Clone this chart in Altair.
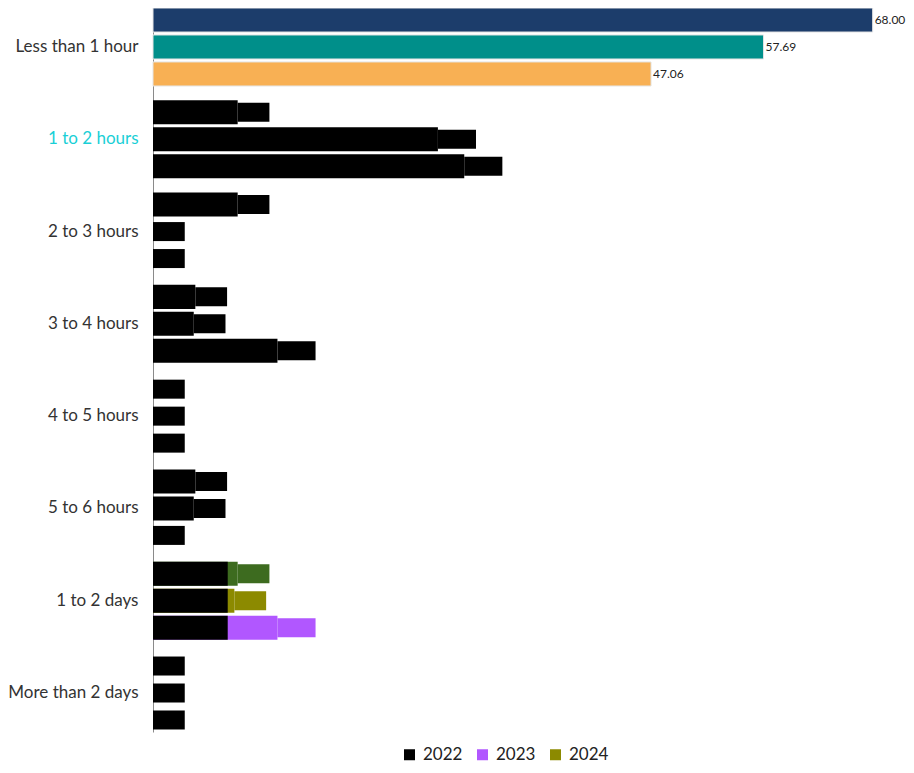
import altair as alt
import pandas as pd

categories = ["Less than 1 hour", "1 to 2 hours", "2 to 3 hours", "3 to 4 hours",
              "4 to 5 hours", "5 to 6 hours", "1 to 2 days", "More than 2 days"]
years = ["2022", "2023", "2024"]
v2022 = [68.00, 8.00, 8.00, 4.00, 0.00, 4.00, 8.00, 0.00]
v2023 = [57.69, 26.92, 0.00, 3.85, 0.00, 3.85, 7.69, 0.00]
v2024 = [47.06, 29.41, 0.00, 11.76, 0.00, 0.00, 11.76, 0.00]

# fill colour of each bar as it appears in the picture
fill2022 = ["#1c3d6b", "#000000", "#000000", "#000000", "#000000", "#000000", "#3d6b1f", "#000000"]
fill2023 = ["#008f8a", "#000000", "#000000", "#000000", "#000000", "#000000", "#8c8a00", "#000000"]
fill2024 = ["#f8b054", "#000000", "#000000", "#000000", "#000000", "#000000", "#b157ff", "#000000"]
# black overlay seen over the start of the "1 to 2 days" bars
overlay_days = [7.06, 7.06, 7.06]

legend_colors = ["#000000", "#b157ff", "#8c8a00"]

rows = []
for i, cat in enumerate(categories):
    for j, (yr, vals, fills) in enumerate(zip(years, [v2022, v2023, v2024], [fill2022, fill2023, fill2024])):
        rows.append({
            "cat": cat, "year": yr, "value": vals[i], "label": f"{vals[i]:.2f}",
            "fillc": fills[i], "top": i == 0,
            "overlay": overlay_days[j] if cat == "1 to 2 days" else 0.0,
        })
df = pd.DataFrame(rows)

yenc = alt.Y("cat:N", sort=categories, title=None,
             scale=alt.Scale(paddingInner=0.155, paddingOuter=0),
             axis=alt.Axis(ticks=False, tickSize=0, labelPadding=15, labelFont="Lato",
                           labelFontSize=17,
                           labelColor=alt.expr("datum.value == '1 to 2 hours' ? '#19cfd6' : '#333333'"),
                           domainColor="#8a8a8a"))
yoff = alt.YOffset("year:N", sort=years, scale=alt.Scale(paddingInner=0.11, paddingOuter=0))
xscale = alt.Scale(domain=[0, 70.3], nice=False)
xenc = alt.X("value:Q", scale=xscale, axis=None)

base = alt.Chart(df)

bars = base.mark_bar().encode(
    y=yenc, yOffset=yoff, x=xenc, fill=alt.Fill("fillc:N", scale=None),
    stroke=alt.condition("datum.top", alt.value("#e4e4e4"), alt.value("transparent")))

boxes = base.transform_filter("!datum.top").transform_calculate(
    box_end="datum.value + 0.6 + 0.6 * length(datum.label)"
).mark_bar(height=19).encode(
    y=yenc, yOffset=yoff, x=xenc, x2="box_end:Q", fill=alt.Fill("fillc:N", scale=None))

overlay = base.transform_filter("datum.overlay > 0").mark_bar(color="#000000").encode(
    y=yenc, yOffset=yoff, x=alt.X("overlay:Q", scale=xscale, axis=None))

texts = base.transform_filter("datum.top").mark_text(
    align="left", baseline="middle", dx=2, font="Lato", fontSize=12, color="#222222"
).encode(y=yenc, yOffset=yoff, x=xenc, text="label:N")

legend_layer = base.mark_square(opacity=0, size=1).encode(
    y=yenc, yOffset=yoff, x=alt.X("value:Q", scale=xscale, axis=None),
    color=alt.Color("year:N", sort=years,
                    scale=alt.Scale(domain=years, range=legend_colors),
                    legend=alt.Legend(title=None, orient="none", legendX=248, legendY=738,
                                      direction="horizontal", padding=0,
                                      symbolType="square", symbolSize=121, symbolOpacity=1,
                                      symbolStrokeWidth=0, labelFont="Lato", labelFontSize=17,
                                      labelOffset=5, labelColor="#222222", columnPadding=11)))

chart = alt.layer(bars, boxes, overlay, texts, legend_layer).properties(
    width=744, height=724,
    autosize=alt.AutoSizeParams(type="none"),
    padding={"left": 145, "top": 0, "right": 9, "bottom": 32},
).configure(view=alt.ViewConfig(stroke=None))

chart.save("out.html", embed_options={"renderer": "svg", "actions": False})
